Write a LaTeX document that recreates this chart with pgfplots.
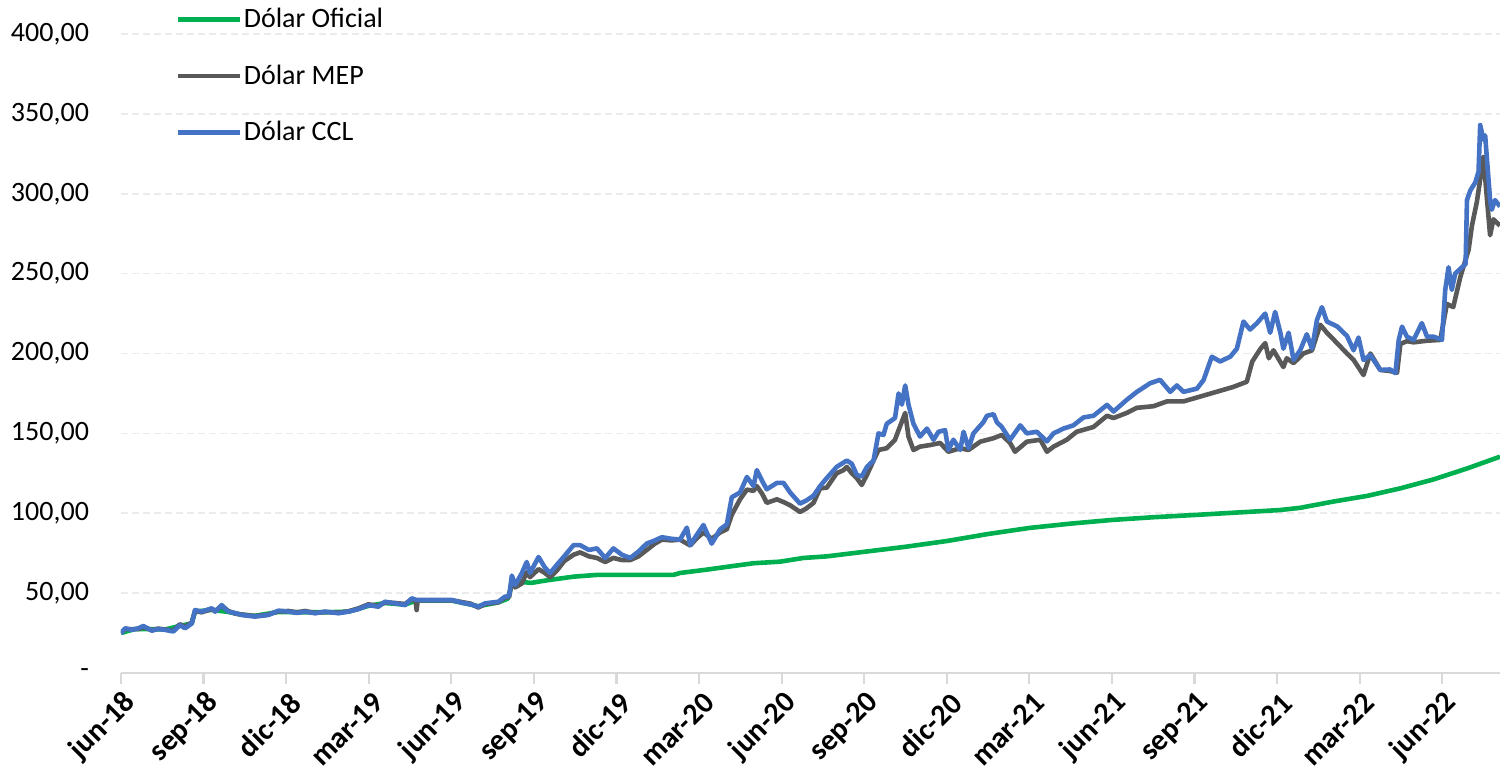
\documentclass[border=0pt]{standalone}
\usepackage{fontspec}
\setmainfont{Carlito}
\usepackage{pgfplots}
\pgfplotsset{compat=1.18}

\definecolor{oficial}{HTML}{00B050}
\definecolor{mep}{HTML}{595959}
\definecolor{ccl}{HTML}{4472C4}
\definecolor{ejegris}{HTML}{D9D9D9}
\definecolor{grilla}{HTML}{EBEBEB}

\begin{document}
\begin{tikzpicture}
\useasboundingbox (-60.5pt,-50.5pt) rectangle (689.5pt,336.5pt);
\begin{axis}[
    scale only axis,
    width=689.5pt, height=319.5pt,
    xmin=0, xmax=50.1,
    ymin=0, ymax=400,
    axis x line*=bottom,
    axis y line*=left,
    x axis line style={draw=ejegris, line width=1.1pt},
    y axis line style={draw=none},
    xtick={0,3,...,48},
    xticklabels={jun-18,sep-18,dic-18,mar-19,jun-19,sep-19,dic-19,mar-20,jun-20,sep-20,dic-20,mar-21,jun-21,sep-21,dic-21,mar-22,jun-22},
    ytick={0,50,...,400},
    yticklabels={-\hspace{5.5pt},{50,00},{100,00},{150,00},{200,00},{250,00},{300,00},{350,00},{400,00}},
    tick align=outside,
    major tick length=5.5pt,
    xtick style={draw=ejegris, line width=1.1pt},
    ytick style={draw=none},
    ymajorgrids,
    grid style={draw=grilla, line width=0.8pt, dash pattern=on 3.5pt off 2pt},
    tick label style={font=\fontsize{14}{16}\selectfont},
    xticklabel style={font=\fontsize{15}{17}\selectfont\bfseries, rotate=45, anchor=east, xshift=2pt, yshift=-8.5pt},
    yticklabel style={xshift=-7pt},
    legend style={at={(rel axis cs:0,1)}, anchor=north west, xshift=27pt, yshift=14pt,
        draw=none, fill=none, inner sep=0pt, row sep=15pt,
        font=\fontsize{14}{16}\selectfont,
        nodes={inner sep=1pt}},
    legend cell align=left,
    legend image code/.code={\draw[#1, line width=2.2pt] (0pt,0pt) -- (31pt,0pt);},
    every axis plot/.append style={line width=2.3pt, line join=round, no markers},
]

% Dolar oficial
\addplot[oficial] coordinates {
(0.00,25) (0.50,27.5) (1.00,27.5) (1.60,27.2) (2.14,29.5) (2.57,31) (2.69,38.5)
(3.30,39.5) (3.90,38.2) (4.39,36.5) (4.87,35.8) (5.72,38.2) (6.50,38) (7.41,38)
(8.26,38.4) (8.99,42) (9.59,43.8) (10.32,42.8) (10.74,45.4) (12.02,45.3) (12.98,41.8)
(13.71,44.2) (14.05,46.5) (14.20,55) (14.56,57) (14.90,56.4) (15.47,58) (16.44,60.3)
(17.29,61.4) (20.07,61.4) (20.31,62.6) (21.28,64.7) (22.25,67) (22.98,68.7) (23.95,69.7)
(24.79,72) (25.64,73) (27.07,76) (28.50,79) (30.00,82.6) (31.50,87) (33.00,90.8)
(34.50,93.5) (36.00,95.8) (37.50,97.5) (39.10,99) (40.60,100.5) (42.10,102) (42.84,103.4)
(44.04,107.3) (45.26,110.8) (46.48,115.6) (47.69,121.2) (48.90,128) (50.10,135.4)
};
\addlegendentry{Dólar Oficial}

% Dolar MEP
\addplot[mep] coordinates {
(0.00,25) (0.15,27.5) (0.40,27.5) (0.63,27.5) (0.81,28.8) (1.12,26.8) (1.35,27.8)
(1.60,27.2) (1.90,26.5) (2.14,30.5) (2.33,29) (2.57,31.5) (2.69,38.8) (2.93,38)
(3.30,40) (3.42,38.8) (3.66,42) (3.90,38.8) (4.15,37.2) (4.39,36.6) (4.87,35.6)
(5.35,36.6) (5.72,38.6) (6.08,38.8) (6.40,38) (6.69,38.8) (7.05,37.6) (7.41,38.2)
(7.90,37.8) (8.26,38.6) (8.62,40.4) (8.99,43) (9.35,42) (9.59,44.2) (9.96,43.8)
(10.32,43.2) (10.56,46.2) (10.70,45.5) (10.74,39.4) (10.78,45.5) (11.29,45.5) (12.02,45.5)
(12.38,44.4) (12.70,43.4) (12.98,41) (13.23,43.2) (13.71,44.2) (13.95,47.2) (14.10,47.5)
(14.20,58) (14.32,53.6) (14.56,56) (14.74,63) (14.86,60) (15.17,65) (15.40,62.6)
(15.59,60) (15.83,64) (16.10,70) (16.44,74) (16.68,75.5) (17.00,73) (17.29,72)
(17.59,69.5) (17.89,72) (18.20,70.7) (18.50,70.7) (18.80,73) (19.10,77) (19.40,81)
(19.65,83.5) (20.00,83) (20.31,83.5) (20.56,81) (20.68,79.8) (20.90,84) (21.16,88)
(21.46,84) (21.77,88) (22.01,90) (22.19,99) (22.49,108.7) (22.74,114.8) (22.98,114)
(23.10,117) (23.30,112) (23.46,106.5) (23.83,108.7) (24.07,107) (24.31,105) (24.67,100.8)
(24.90,103) (25.16,106.5) (25.40,115.6) (25.64,116) (26.00,125) (26.25,127) (26.37,129)
(26.55,125) (26.73,122) (26.91,117.7) (27.10,124) (27.34,133) (27.52,139.6) (27.82,140.7)
(28.12,146) (28.25,152) (28.49,162.8) (28.61,148) (28.79,139.6) (29.03,141.7) (29.40,142.7)
(29.76,144) (30.06,138.5) (30.49,140.7) (30.79,139.6) (31.22,144.8) (31.70,147) (32.00,149)
(32.30,144) (32.48,138.5) (32.91,144.8) (33.40,146) (33.64,138.5) (33.88,141.7) (34.36,146)
(34.72,151) (35.33,154) (35.82,161) (36.06,159.6) (36.54,162.8) (36.91,166) (37.51,167)
(38.00,170) (38.60,170) (39.20,173) (39.80,176) (40.40,179) (40.90,182.3) (41.10,195)
(41.40,203) (41.57,206.5) (41.70,197) (41.87,202) (42.23,191.5) (42.35,197) (42.60,194)
(42.96,200) (43.27,202) (43.57,218) (43.81,213) (44.18,206.5) (44.54,200) (44.78,196)
(45.14,186.5) (45.39,200) (45.75,189.7) (46.11,189) (46.36,188) (46.48,206) (46.72,207.7)
(46.96,207) (47.45,208) (47.93,208.5) (48.17,231) (48.40,229) (48.66,248) (48.96,265)
(49.08,280) (49.26,295) (49.50,323) (49.62,298) (49.74,274) (49.86,284) (50.10,280)
};
\addlegendentry{Dólar MEP}

% Dolar CCL
\addplot[ccl] coordinates {
(0.00,24.8) (0.15,28) (0.40,27) (0.63,28) (0.81,29.4) (1.12,26.5) (1.35,27.5)
(1.60,27) (1.90,26) (2.14,30) (2.33,28) (2.57,31) (2.69,39.4) (2.93,38.4)
(3.30,40.5) (3.42,38.4) (3.66,42.5) (3.90,38.4) (4.15,37.5) (4.39,36.3) (4.87,35.3)
(5.35,36.3) (5.72,39) (6.08,38.4) (6.40,37.6) (6.69,38.4) (7.05,37.4) (7.41,38.4)
(7.90,37.4) (8.26,38.4) (8.62,39.9) (8.99,42.5) (9.35,41.5) (9.59,44.6) (9.96,43.6)
(10.32,42.5) (10.56,46.7) (10.74,45.7) (11.29,45.7) (12.02,45.7) (12.38,44) (12.70,43)
(12.98,41.5) (13.23,43.6) (13.71,44.6) (13.95,47.8) (14.10,48) (14.20,61) (14.32,55)
(14.56,62.4) (14.74,69.5) (14.86,62.6) (15.17,72.6) (15.40,66) (15.59,62.6) (15.83,67.6)
(16.10,73) (16.44,80) (16.68,80) (17.00,77) (17.29,78) (17.59,72) (17.89,78)
(18.20,74) (18.50,72) (18.80,76) (19.10,81) (19.40,83) (19.65,85) (20.00,84)
(20.31,83.5) (20.56,91) (20.68,80) (20.90,86) (21.16,92.6) (21.46,81) (21.77,90)
(22.01,93) (22.19,110) (22.49,113) (22.74,122.7) (22.98,117) (23.10,127) (23.30,120)
(23.46,115) (23.83,119) (24.07,119) (24.31,113) (24.67,106) (24.90,108) (25.16,111)
(25.40,117) (25.64,122) (26.00,129) (26.37,133) (26.55,131) (26.73,124) (26.91,123)
(27.10,129) (27.34,133) (27.52,150) (27.70,149) (27.82,156) (28.12,159.6) (28.25,175)
(28.37,168) (28.49,180) (28.61,168) (28.79,156) (29.03,148) (29.28,153) (29.52,146)
(29.70,151) (29.94,152) (30.06,139.6) (30.24,146) (30.49,139.6) (30.61,151) (30.79,140.7)
(30.97,150) (31.33,157) (31.46,161) (31.70,162) (31.82,157) (32.00,154) (32.30,146)
(32.67,155) (32.91,150) (33.27,151) (33.64,145) (33.88,150) (34.24,153) (34.60,155)
(34.97,160) (35.33,161) (35.82,167.8) (36.06,163.7) (36.54,171) (36.91,176) (37.39,181.4)
(37.75,183.5) (38.12,176) (38.36,180) (38.60,176) (39.09,178) (39.33,183.4) (39.63,198)
(39.93,195) (40.30,198) (40.54,203) (40.78,220) (41.02,215) (41.27,219) (41.57,225)
(41.75,213) (41.93,226) (42.12,213) (42.23,203) (42.42,213) (42.60,196) (42.84,202)
(43.08,212) (43.27,203) (43.45,221) (43.63,229) (43.81,220) (44.18,217) (44.54,211)
(44.78,202) (44.96,210) (45.14,196) (45.39,199) (45.75,189.7) (46.11,190) (46.30,187.7)
(46.42,208.5) (46.54,216.8) (46.72,210.5) (46.96,208.5) (47.26,219) (47.45,210.5) (47.69,210.5)
(47.99,208.5) (48.11,239.8) (48.23,254) (48.35,239.8) (48.47,250) (48.72,254) (48.85,256)
(48.90,296) (49.02,302) (49.20,307) (49.32,313.8) (49.38,343) (49.50,333.7) (49.56,336.5)
(49.62,323) (49.74,296) (49.80,290) (49.92,296) (50.10,292)
};
\addlegendentry{Dólar CCL}

\end{axis}
\end{tikzpicture}
\end{document}
